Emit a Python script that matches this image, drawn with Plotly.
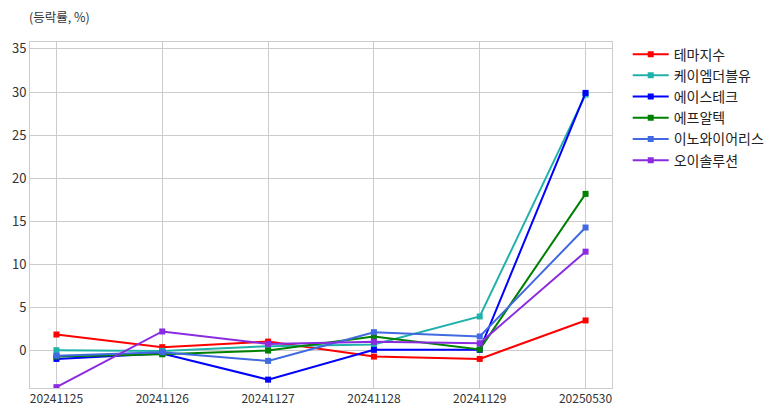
import plotly.graph_objects as go

dates = ["20241125", "20241126", "20241127", "20241128", "20241129", "20250530"]
names = ["테마지수", "케이엠더블유", "에이스테크", "에프알텍", "이노와이어리스", "오이솔루션"]
theme = [1.9, 0.43, 1.08, -0.66, -0.93, 3.53]
kmw = [0.08, 0.0, 0.55, 0.75, 3.99, 29.7]
ace = [-0.93, -0.3, -3.33, 0.12, 0.12, 29.9]
frtek = [-0.65, -0.39, 0.04, 1.67, 0.17, 18.2]
innowireless = [-0.55, -0.15, -1.16, 2.17, 1.67, 14.3]
oisolution = [-4.2, 2.25, 0.81, 1.05, 0.89, 11.5]
series = [theme, kmw, ace, frtek, innowireless, oisolution]
colors = ["#ff0000", "#20b2aa", "#0000ff", "#008000", "#4169e1", "#8a2be2"]
yticks = [0, 5, 10, 15, 20, 25, 30, 35]

FONT = "Noto Sans CJK KR"
fig = go.Figure()
for n, s, c in zip(names, series, colors):
    fig.add_trace(go.Scatter(
        x=dates, y=s, name=n, mode="lines+markers",
        line=dict(color=c, width=2),
        marker=dict(symbol="square", size=6, color=c),
    ))

fig.update_layout(
    width=774, height=400,
    margin=dict(l=22, r=170, t=34, b=20),
    paper_bgcolor="white", plot_bgcolor="white",
    font=dict(family=FONT, size=12, color="#333333"),
    showlegend=True,
    legend=dict(x=1.027, y=1.01, xanchor="left", yanchor="top",
                font=dict(size=14, color="#222222"), tracegroupgap=0,
                itemwidth=36, bgcolor="rgba(0,0,0,0)"),
    annotations=[dict(text="(등락률, %)", xref="paper", yref="paper",
                      x=-0.006, y=1.0, yshift=26, xanchor="left", yanchor="middle",
                      showarrow=False, font=dict(size=12.5, color="#333333"))],
)
fig.update_xaxes(type="category", range=[-0.25, 5.25], showgrid=True,
                 gridcolor="#cccccc", gridwidth=1, showline=True, linecolor="#cccccc",
                 mirror=True, ticks="", tickfont=dict(size=12, color="#333333"),
                 zeroline=False, automargin=False)
fig.update_yaxes(range=[-4.3, 35.8], tickvals=yticks, showgrid=True,
                 gridcolor="#cccccc", gridwidth=1, showline=True, linecolor="#cccccc",
                 mirror=True, ticks="", tickfont=dict(size=13, color="#333333"),
                 zeroline=False, automargin=False)

fig.write_html("out.html")
